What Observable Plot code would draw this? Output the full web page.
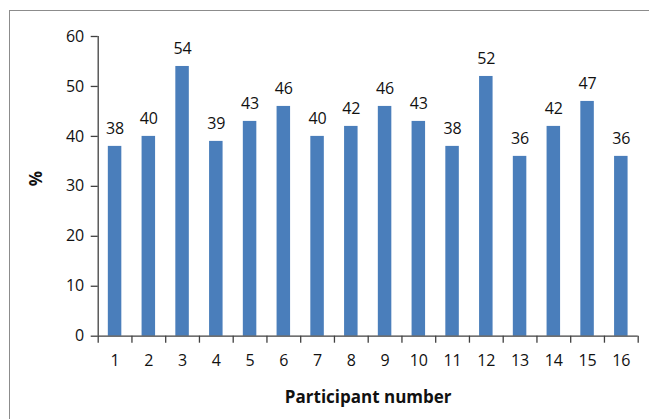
<!DOCTYPE html>
<html>
<head>
<meta charset="utf-8">
<script src="https://cdn.jsdelivr.net/npm/d3@7"></script>
<script src="https://cdn.jsdelivr.net/npm/@observablehq/plot@0.6"></script>
<style>
  html, body { margin: 0; padding: 0; background: #fff; }
  #wrap { position: relative; width: 649px; height: 419px; overflow: hidden; }
  #frame { position: absolute; left: 9px; top: 10px; width: 660px; height: 430px;
           border-left: 1.5px solid #8c8c8c; border-top: 1.5px solid #8c8c8c; pointer-events: none; }
  svg { font-family: "Open Sans", sans-serif; }
</style>
</head>
<body>
<div id="wrap"><div id="frame"></div></div>
<script>
const participants = [1,2,3,4,5,6,7,8,9,10,11,12,13,14,15,16];
const percents = [38,40,54,39,43,46,40,42,46,43,38,52,36,42,47,36];
const yTicks = [0,10,20,30,40,50,60];

const data = participants.map((p, i) => ({p, v: percents[i]}));
const boundaries = participants.map(p => p - 0.5).concat([participants.length + 0.5]);
const half = 0.2;

const chart = Plot.plot({
  width: 649,
  height: 419,
  marginLeft: 97.7,
  marginRight: 11.3,
  marginTop: 36,
  marginBottom: 83.3,
  style: {fontFamily: "Open Sans, sans-serif", fontSize: "16px", color: "#000", background: "transparent"},
  x: {type: "linear", domain: [0.5, participants.length + 0.5]},
  y: {domain: [0, 60]},
  marks: [
    Plot.rectY(data, {x1: d => d.p - half, x2: d => d.p + half, y: "v", fill: "#4a7ebb"}),
    Plot.text(data, {x: "p", y: "v", text: d => String(d.v), dy: -18, fontSize: 16, fill: "#111"}),
    Plot.axisY({ticks: yTicks, tickSize: 7, tickPadding: 7, label: null, fontSize: 16, fill: "#111", stroke: "#404040", strokeWidth: 1.3}),
    Plot.axisX({ticks: boundaries, tickSize: 7, tickFormat: () => "", label: null, stroke: "#404040", strokeWidth: 1.3}),
    Plot.axisX({ticks: participants, tickSize: 0, tickPadding: 18, tickFormat: d => String(d), label: null, fontSize: 16, fill: "#111"}),
    Plot.ruleX([0.5], {y1: 0, y2: 60, stroke: "#404040", strokeWidth: 1.3}),
    Plot.ruleY([0], {stroke: "#404040", strokeWidth: 1.3}),
    Plot.text(["%"], {frameAnchor: "left", dx: -62, rotate: -90, fontWeight: "bold", fontSize: 17, fill: "#111"}),
    Plot.text(["Participant number"], {frameAnchor: "bottom", dy: 67, fontWeight: "bold", fontSize: 17, fill: "#111"})
  ]
});
document.getElementById("wrap").prepend(chart);
</script>
</body>
</html>
